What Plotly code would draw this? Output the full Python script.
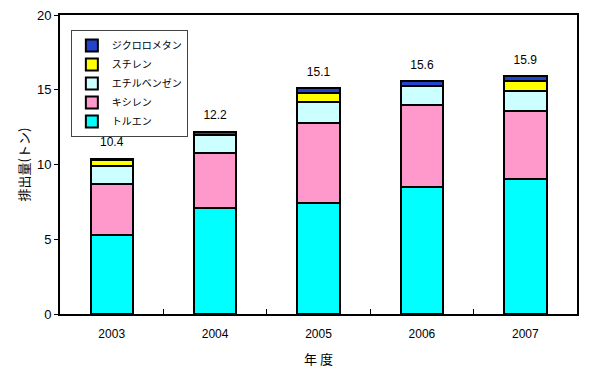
import plotly.graph_objects as go

years = ["2003", "2004", "2005", "2006", "2007"]
toluene = [5.3, 7.1, 7.4, 8.5, 9.0]
xylene = [3.4, 3.7, 5.4, 5.5, 4.6]
ethylbenzene = [1.2, 1.2, 1.4, 1.25, 1.3]
styrene = [0.4, 0.0, 0.6, 0.0, 0.7]
dichloromethane = [0.1, 0.2, 0.3, 0.35, 0.3]
totals = [10.4, 12.2, 15.1, 15.6, 15.9]

series = [
    ("トルエン", toluene, "#00FFFF"),
    ("キシレン", xylene, "#FF99CC"),
    ("エチルベンゼン", ethylbenzene, "#CCFFFF"),
    ("スチレン", styrene, "#FFFF00"),
    ("ジクロロメタン", dichloromethane, "#2244CC"),
]

jp = "Noto Sans CJK JP"
fig = go.Figure()
for name, vals, col in series:
    fig.add_trace(go.Bar(
        x=years, y=vals, name=name,
        marker=dict(color=col, line=dict(color="black", width=2)),
    ))

fig.add_trace(go.Scatter(
    x=years, y=totals, mode="markers+text",
    marker=dict(size=13, color="rgba(0,0,0,0)"),
    text=[f"{t:.1f}" for t in totals], textposition="top center",
    textfont=dict(family="Liberation Sans", size=12, color="black"),
    showlegend=False, hoverinfo="skip",
))

fig.update_layout(
    width=593, height=371,
    margin=dict(l=60, r=16, t=15, b=57),
    barmode="stack", bargap=0.59,
    plot_bgcolor="white", paper_bgcolor="white",
    showlegend=True,
    legend=dict(x=0.021, y=0.95, xanchor="left", yanchor="top",
                bordercolor="#444444", borderwidth=1, bgcolor="rgba(255,255,255,0)",
                traceorder="reversed",
                font=dict(family=jp, size=10, color="black"),
                tracegroupgap=0, itemwidth=30),
    xaxis=dict(
        type="category", range=[-0.5, 4.5], automargin=False,
        showline=True, linecolor="black", linewidth=2, mirror=True,
        ticks="inside", tickson="boundaries", ticklen=5, tickcolor="black",
        ticklabelstandoff=8,
        tickfont=dict(family="Liberation Sans", size=12, color="black"),
        title=dict(text="年 度", font=dict(family=jp, size=13, color="black"), standoff=14),
    ),
    yaxis=dict(
        range=[0, 20], dtick=5, automargin=False,
        showline=True, linecolor="black", linewidth=2, mirror=True,
        ticks="outside", ticklen=4, tickcolor="black",
        showgrid=False, zeroline=False,
        tickfont=dict(family="Liberation Sans", size=13, color="black"),
        title=dict(text="排出量(トン)", font=dict(family=jp, size=13, color="black"), standoff=4),
    ),
)

fig.write_html("out.html")
